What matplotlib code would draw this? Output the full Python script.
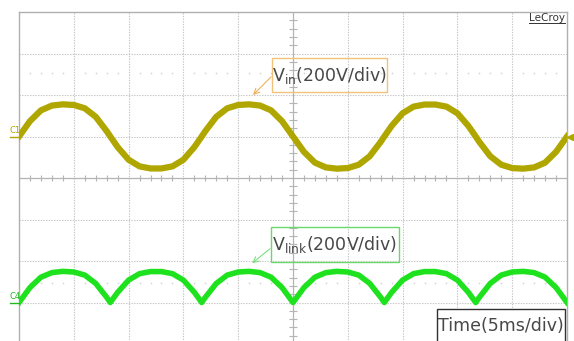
import numpy as np
import matplotlib.pyplot as plt
from matplotlib.patches import Rectangle
from matplotlib.lines import Line2D

# scope capture: 5 ms/div, 200 V/div, samples
time_ms = [0, 1, 2, 3, 4, 5, 6, 7, 8, 8.33, 9, 10, 11, 12, 13, 14, 15, 16, 16.67,
           17, 18, 19, 20, 21, 22, 23, 24, 25, 26, 27, 28, 29, 30, 31, 32, 33, 33.33,
           34, 35, 36, 37, 38, 39, 40, 41, 41.67, 42, 43, 44, 45, 46, 47, 48, 49, 50]
vin_volts = [0, 74, 126, 149, 155, 152, 136, 95, 26, 0, -51, -112, -144, -154, -154, -144, -112, -51, 0,
             26, 95, 136, 152, 155, 149, 126, 74, 0, -74, -126, -149, -155, -152, -136, -95, -26, 0,
             51, 112, 144, 154, 154, 144, 112, 51, 0, -26, -95, -136, -152, -155, -149, -126, -74, 0]
vlink_volts = [0, 72, 122, 144, 150, 147, 132, 92, 25, 0, 49, 108, 139, 149, 149, 139, 108, 49, 0,
               25, 92, 132, 147, 150, 144, 122, 72, 0, 72, 122, 144, 150, 147, 132, 92, 25, 0,
               49, 108, 139, 149, 149, 139, 108, 49, 0, 25, 92, 132, 147, 150, 144, 122, 72, 0]

volts_per_div = 200
ms_per_div = 5
vin_offset = 1     # C1 ground, in divisions
vlink_offset = -3  # C4 ground

OLIVE = '#b0a600'
GREEN = '#1fe21f'
GRID = '#c4c4c4'

W, H = 574, 341
fig = plt.figure(figsize=(W / 100, H / 100), dpi=100)
# screen area: 10 x 8 divisions, bottom row cut off by the capture
L, T, PW, DIV = 19, 12, 548, 41.5
ax = fig.add_axes([L / W, (H - T - 8 * DIV) / H, PW / W, 8 * DIV / H])
ax.set_xlim(0, 50)
ax.set_ylim(-4, 4)
ax.set_xticks([])
ax.set_yticks([])
for s in ax.spines.values():
    s.set_color('#b0b0b0')
    s.set_linewidth(1)


def px(x):
    return (x - L) / PW * 50


def py(y):
    return 4 - (y - T) / DIV


# graticule
for x in range(5, 50, 5):
    if x != 25:
        ax.axvline(x, color=GRID, lw=0.8, ls=(0, (1.2, 1.2)), zorder=1)
for y in [-3, -2, -1, 1, 2, 3]:
    ax.axhline(y, color=GRID, lw=0.8, ls=(0, (1.2, 1.2)), zorder=1)
ax.axhline(0, color='#b4b4b4', lw=0.9, zorder=1)
ax.axvline(25, color='#b4b4b4', lw=0.9, zorder=1)
xt = [x for x in np.arange(0, 50.01, 1) if x % 5]
ax.vlines(xt, -0.08, 0.08, color='#b4b4b4', lw=0.8, zorder=1)
yt = [y for y in np.arange(-4, 4.01, 0.2) if abs(y - round(y)) > 0.01]
ax.hlines(yt, 25 - 0.35, 25 + 0.35, color='#b4b4b4', lw=0.8, zorder=1)
for yd in [2.53, -2.53]:
    ax.scatter(xt, [yd] * len(xt), s=1.5, color='#d4d4d4', lw=0, zorder=1)

# traces
t = np.array(time_ms)
ax.plot(t, np.array(vin_volts) / volts_per_div + vin_offset, color=OLIVE, lw=4.5,
        solid_joinstyle='round', zorder=3)
ax.plot(t, np.array(vlink_volts) / volts_per_div + vlink_offset, color=GREEN, lw=4,
        solid_joinstyle='round', zorder=3)

# channel markers
fig.text(10 / W, 1 - 133 / H, 'C1', fontsize=6, color=OLIVE, va='baseline', rotation=0)
fig.add_artist(Line2D([10 / W, 19 / W], [1 - 137 / H] * 2, color=OLIVE, lw=1))
fig.text(10 / W, 1 - 299 / H, 'C4', fontsize=6, color='#22b822', va='baseline', rotation=0)
fig.add_artist(Line2D([10 / W, 19 / W], [1 - 303 / H] * 2, color='#22b822', lw=1))
ax.plot(50.25, vin_offset, marker='<', ms=5, color=OLIVE, clip_on=False, zorder=4)

# labels
txt = dict(fontsize=12.5, color='#484848', ha='center', va='center', zorder=6)
ax.add_patch(Rectangle((px(272), py(92)), px(387) - px(272), py(58) - py(92),
                       fill=False, ec='#f2c278', lw=1, zorder=5))
ax.text(px(329.5), py(75), r'V$_{\mathregular{in}}$(200V/div)', **txt)
ax.annotate('', xy=(px(251), py(97)), xytext=(px(273), py(75)),
            arrowprops=dict(arrowstyle='->', color='#f2b05a', lw=0.8), zorder=5)

ax.add_patch(Rectangle((px(271), py(262)), px(399) - px(271), py(227) - py(262),
                       fill=False, ec='#6ad86a', lw=1, zorder=5))
ax.text(px(335), py(244.5), r'V$_{\mathregular{link}}$(200V/div)', **txt)
ax.annotate('', xy=(px(250), py(265)), xytext=(px(272), py(247)),
            arrowprops=dict(arrowstyle='->', color='#7ee07e', lw=0.8), zorder=5)

ax.add_patch(Rectangle((px(437), py(350)), px(565) - px(437), py(309) - py(350),
                       fc='white', ec='#303030', lw=1, zorder=5, clip_on=False))
ax.text(px(501), py(326), 'Time(5ms/div)', **txt)

fig.text(565 / W, 1 - 21 / H, 'LeCroy', fontsize=7.5, color='#333333', ha='right', va='baseline')
fig.add_artist(Line2D([529 / W, 565 / W], [1 - 23 / H] * 2, color='#333333', lw=0.7))

fig.savefig('out.png', dpi=100)
